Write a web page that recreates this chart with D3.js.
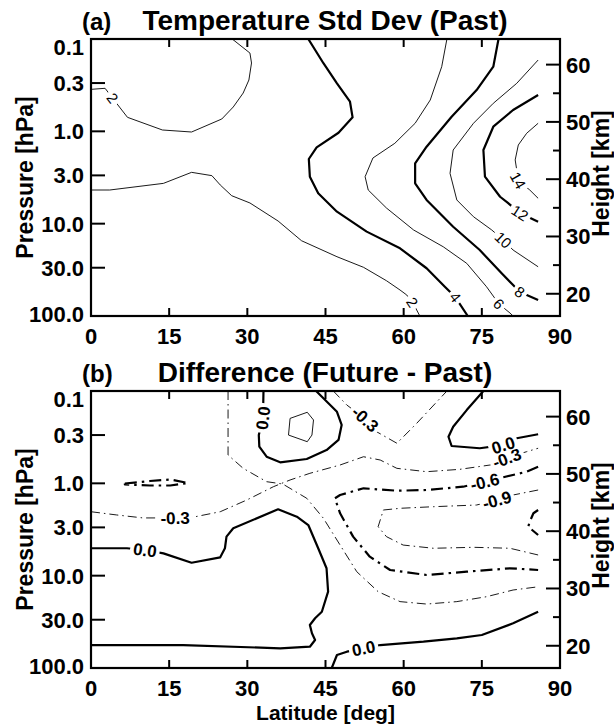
<!DOCTYPE html>
<html><head><meta charset="utf-8">
<script src="https://cdn.jsdelivr.net/npm/d3@7"></script>
<style>
body{margin:0;background:#fff;}
svg{display:block;font-family:"Liberation Sans",Arial,Helvetica,sans-serif;}
</style></head><body>
<svg id="chart" width="614" height="726"></svg>
<script>
// ---------- axis data ----------
const latTicks = [0,15,30,45,60,75,90];
const pressureTicks = [0.1,0.3,1,3,10,30,100];
const pressureTickLabels = ["0.1","0.3","1.0","3.0","10.0","30.0","100.0"];
const heightTicks = [20,30,40,50,60];
const heightMinorTicks = [25,35,45,55];
const scaleHeightKm = 7;

// ---------- panel (a): temperature std dev contours, points [lat, p(hPa)] ----------
const past2Upper = [[0,0.351],[2.7,0.342],[5.6,0.558],[7.0,0.705],[13.7,0.967],[19.3,1.017],[25.1,0.735],[27.3,0.545],[29.2,0.385],[30.3,0.278],[30.8,0.182],[30.5,0.142],[27.1,0.1]];
const past2Lower = [[0,4.32],[3.6,4.32],[13.9,3.66],[19.3,2.78],[23.2,3.02],[24.8,3.81],[27.0,4.98],[30.5,5.97],[35.9,9.36],[40.4,15.3],[47.2,22.8],[52.3,29.7],[56.7,41.5],[59.3,52.3],[60.6,59.3],[61.8,72.3],[62.8,92.8],[63.1,100]];
const past4 = [[41.7,0.1],[44.6,0.183],[47.2,0.302],[49.7,0.478],[50.2,0.705],[47.5,1.035],[43.3,1.489],[41.8,1.994],[42.0,3.10],[43.6,4.69],[47.2,7.42],[52.9,12.2],[59.3,18.5],[64.4,30.4],[67.9,48.2],[69.9,62.3],[72.3,100]];
const past6 = [[68.3,0.1],[67.3,0.1995],[65.1,0.458],[62.2,0.818],[58.3,1.348],[54.1,1.945],[52.6,3.10],[53.2,4.32],[56.7,6.77],[61.9,11.7],[67.6,17.8],[72.1,26.9],[75.9,48.2],[78.3,74.2],[80.4,92.8],[81.0,100]];
const past8 = [[78.2,0.1],[77.2,0.1995],[74.0,0.357],[69.2,0.694],[64.4,1.467],[62.2,2.22],[62.2,3.66],[64.4,5.54],[69.5,10.8],[74.6,19.3],[78.8,34.5],[81.0,46.2],[82.3,55.0],[85.8,67.1]];
const past10 = [[85.8,0.169],[81.7,0.302],[77.2,0.497],[73.4,0.818],[69.5,1.593],[68.9,2.85],[70.2,5.54],[73.4,8.41],[76.9,11.7],[79.1,15.0],[81.0,19.3],[85.8,29.3]];
const past12 = [[85.8,0.404],[81.0,0.587],[77.2,0.891],[75.3,1.593],[75.6,3.10],[78.5,5.11],[80.0,5.97],[82.3,7.66],[85.8,9.52]];
const past14 = [[85.8,0.818],[83.6,1.05],[82.0,1.406],[81.4,2.04],[81.7,2.62],[81.9,3.37],[84.2,4.32],[85.8,5.31]];

// label anchor positions [lat, p]
const past2UpperLabels = [[4.1,0.44]];
const past2LowerLabels = [[61.7,71]];
const past4Labels = [[70.0,62]];
const past6Labels = [[78.3,74]];
const past8Labels = [[82.3,55]];
const past10Labels = [[79.1,15.0]];
const past12Labels = [[82.3,7.66]];
const past14Labels = [[81.9,3.4]];

// ---------- panel (b): difference contours ----------
const diffM03a = [[0,2.03],[4.9,2.20],[10.0,2.37],[16.1,2.37],[20.0,2.30],[24.8,2.03],[29.9,1.515],[35.0,1.088],[38.2,0.920],[42.0,0.779],[47.8,0.633],[52.3,0.515],[55.5,0.559],[58.7,0.688],[64.4,0.748],[70.8,0.705],[76.6,0.633],[79.8,0.532],[83.6,0.454],[85.8,0.417]];
const diffM03b = [[26.3,0.1],[26.3,0.493],[29.2,0.688],[33.7,0.960],[36.8,1.017],[41.4,1.452],[44.6,2.39],[47.8,4.66],[51.0,9.06],[55.1,14.9],[59.3,19.1],[64.4,20.3],[70.2,19.1],[75.9,16.9],[81.0,14.3],[85.8,13.2]];
const diffM03c = [[46.5,0.1],[49.1,0.142],[52.9,0.206],[54.8,0.276],[58.7,0.368],[62.5,0.224],[68.3,0.1]];
const diff0Upper = [[33.1,0.1],[33.0,0.196],[32.2,0.300],[32.3,0.401],[33.7,0.515],[36.3,0.592],[41.4,0.545],[45.2,0.436],[47.5,0.339],[48.1,0.233],[47.2,0.168],[44.6,0.120],[43.2,0.1]];
const diffP03 = [[38.2,0.198],[41.5,0.170],[42.7,0.206],[42.4,0.300],[41.5,0.354],[37.9,0.300],[38.2,0.198]];
const diff0UpRight = [[75.3,0.1],[72.1,0.161],[69.5,0.244],[68.6,0.313],[69.2,0.394],[74.6,0.417],[79.1,0.385],[81.7,0.325],[85.8,0.294]];
const diff0Mid = [[0,5.05],[6.9,5.05],[10.4,5.27],[13.9,5.73],[19.3,7.24],[24.8,6.33],[25.7,5.05],[26.0,3.78],[27.3,3.07],[35.9,1.911],[39.5,2.30],[41.7,2.83],[43.6,5.05],[45.2,8.32],[45.5,14.9],[44.3,24.6],[43.0,28.9],[42.0,34.2],[42.4,42.1],[43.0,49.8],[42.0,58.8],[36.3,61.2],[17.7,56.4],[0,56.4]];
const diff0LowRight = [[46.2,100],[47.2,72.3],[49.1,66.6],[52.3,61.2],[55.5,56.4],[63.8,51.9],[70.2,47.7],[75.0,43.9],[81.0,32.8],[85.8,24.6]];
const diffM06 = [[85.8,0.661],[83.6,0.748],[75.6,0.960],[71.4,1.088],[64.4,1.181],[58.7,1.202],[52.3,1.132],[47.8,1.338],[46.8,1.452],[47.8,2.11],[50.3,3.78],[53.5,6.23],[57.4,8.68],[64.4,9.83],[72.1,9.06],[80.4,8.32],[85.8,8.68]];
const diffM06Loop = [[6.5,1.004],[11.3,0.944],[15.2,0.909],[18.6,0.992],[15.2,1.056],[11.3,1.056],[6.5,1.03],[6.5,1.004]];
const diffM09 = [[85.8,1.181],[81.0,1.338],[77.9,1.515],[74.0,1.717],[65.7,1.791],[59.3,1.864],[56.1,1.945],[55.5,2.50],[55.1,2.95],[56.7,3.78],[59.9,4.66],[65.7,5.05],[73.4,4.93],[80.4,5.05],[85.8,5.97]];
const diffM12 = [[85.8,1.945],[84.9,2.11],[84.2,2.60],[83.9,2.95],[85.8,3.63]];

const diffM03aLabels = [[16.1,2.37],[79.8,0.532]];
const diffM03cLabels = [[52.6,0.2]];
const diff0UpperLabels = [[33.0,0.196]];
const diff0UpRightLabels = [[79.1,0.385]];
const diff0MidLabels = [[10.4,5.2]];
const diff0LowRightLabels = [[52.3,61.2]];
const diffM06Labels = [[75.6,0.96]];
const diffM09Labels = [[77.9,1.515]];

// ---------- build ----------
const pastContours = [
  {level:2, points:past2Upper, labels:past2UpperLabels},
  {level:2, points:past2Lower, labels:past2LowerLabels},
  {level:4, points:past4, labels:past4Labels},
  {level:6, points:past6, labels:past6Labels},
  {level:8, points:past8, labels:past8Labels},
  {level:10, points:past10, labels:past10Labels},
  {level:12, points:past12, labels:past12Labels},
  {level:14, points:past14, labels:past14Labels}
];
const diffContours = [
  {level:-0.3, points:diffM03a, labels:diffM03aLabels},
  {level:-0.3, points:diffM03b, labels:[]},
  {level:-0.3, points:diffM03c, labels:diffM03cLabels},
  {level:0, points:diff0Upper, labels:diff0UpperLabels},
  {level:0.3, points:diffP03, labels:[]},
  {level:0, points:diff0UpRight, labels:diff0UpRightLabels},
  {level:0, points:diff0Mid, labels:diff0MidLabels},
  {level:0, points:diff0LowRight, labels:diff0LowRightLabels},
  {level:-0.6, points:diffM06, labels:diffM06Labels},
  {level:-0.6, points:diffM06Loop, labels:[]},
  {level:-0.9, points:diffM09, labels:diffM09Labels},
  {level:-1.2, points:diffM12, labels:[]}
];

const svg = d3.select("#chart");
const xScale = d3.scaleLinear().domain([0,90]).range([91,560]);

function drawPanel(cfg){
  const {top,bottom,contours,styleOf,fmt,labelSize,labelWeight,tag,title,id} = cfg;
  const y = d3.scaleLog().domain([0.1,100]).range([top,bottom]);
  const z = d3.scaleLinear()
    .domain([scaleHeightKm*Math.log(1000/100), scaleHeightKm*Math.log(1000/0.1)])
    .range([bottom,top]);
  const g = svg.append("g");
  g.append("clipPath").attr("id","clip"+id).append("rect")
    .attr("x",xScale(0)).attr("y",top).attr("width",xScale(90)-xScale(0)).attr("height",bottom-top);
  const cg = g.append("g").attr("clip-path",`url(#clip${id})`);
  const lg = g.append("g");
  const line = d3.line().x(d=>xScale(d[0])).y(d=>y(d[1]));

  contours.forEach(c=>{
    const st = styleOf(c.level);
    const path = cg.append("path").attr("d",line(c.points))
      .attr("fill","none").attr("stroke","#000")
      .attr("stroke-width",st.w).attr("stroke-linejoin","round")
      .attr("stroke-dasharray",st.dash||null);
    const node = path.node();
    const L = node.getTotalLength();
    c.labels.forEach(lp=>{
      const tx = xScale(lp[0]), ty = y(lp[1]);
      let best=0,bd=1e12;
      for(let s=0;s<=L;s+=0.5){const pt=node.getPointAtLength(s);const d=(pt.x-tx)**2+(pt.y-ty)**2;if(d<bd){bd=d;best=s;}}
      const a=node.getPointAtLength(Math.max(0,best-7)), b=node.getPointAtLength(Math.min(L,best+7));
      let ang=Math.atan2(b.y-a.y,b.x-a.x)*180/Math.PI;
      while(ang>95) ang-=180;
      while(ang<=-85) ang+=180;
      const p0=node.getPointAtLength(best);
      const lab = lg.append("g").attr("transform",`translate(${p0.x},${p0.y}) rotate(${ang})`);
      const rect = lab.append("rect").attr("fill","#fff");
      const t = lab.append("text").text(fmt(c.level))
        .attr("text-anchor","middle").attr("dy","0.36em")
        .attr("font-size",labelSize).attr("font-weight",labelWeight).attr("fill","#000");
      const w = t.node().getComputedTextLength();
      const h = labelSize*0.78;
      rect.attr("x",-w/2-3).attr("y",-h/2-1).attr("width",w+6).attr("height",h+2);
    });
  });

  // frame
  g.append("rect").attr("x",xScale(0)).attr("y",top).attr("width",xScale(90)-xScale(0)).attr("height",bottom-top)
    .attr("fill","none").attr("stroke","#000").attr("stroke-width",2.2);
  const tk = g.append("g").attr("stroke","#000").attr("stroke-width",2);
  latTicks.forEach(v=>{
    tk.append("line").attr("x1",xScale(v)).attr("x2",xScale(v)).attr("y1",bottom).attr("y2",bottom-8);
    tk.append("line").attr("x1",xScale(v)).attr("x2",xScale(v)).attr("y1",top).attr("y2",top+8);
  });
  pressureTicks.forEach(v=>{
    tk.append("line").attr("x1",xScale(0)).attr("x2",xScale(0)+14).attr("y1",y(v)).attr("y2",y(v));
  });
  heightTicks.forEach(v=>{
    tk.append("line").attr("x1",xScale(90)).attr("x2",xScale(90)-14).attr("y1",z(v)).attr("y2",z(v));
  });
  heightMinorTicks.forEach(v=>{
    tk.append("line").attr("x1",xScale(90)).attr("x2",xScale(90)-7).attr("y1",z(v)).attr("y2",z(v));
  });

  const txt = g.append("g").attr("font-weight","bold").attr("fill","#000").attr("font-size",22);
  latTicks.forEach(v=>{
    txt.append("text").attr("x",xScale(v)).attr("y",bottom+28).attr("text-anchor","middle").text(v);
  });
  pressureTicks.forEach((v,i)=>{
    const cy = Math.max(top+8, Math.min(bottom-2, y(v)));
    txt.append("text").attr("x",84).attr("y",cy).attr("dy","0.36em").attr("text-anchor","end").text(pressureTickLabels[i]);
  });
  heightTicks.forEach(v=>{
    txt.append("text").attr("x",566).attr("y",z(v)).attr("dy","0.36em").attr("text-anchor","start").text(v);
  });
  const cy = (top+bottom)/2;
  txt.append("text").attr("transform",`translate(33,${cy}) rotate(-90)`).attr("text-anchor","middle")
    .attr("font-size",23).text("Pressure [hPa]");
  txt.append("text").attr("transform",`translate(609,${cy-4}) rotate(-90)`).attr("text-anchor","middle")
    .attr("font-size",23).text("Height [km]");
  txt.append("text").attr("x",82).attr("y",top-9).attr("font-size",24).text(tag);
  txt.append("text").attr("x",325).attr("y",top-9).attr("text-anchor","middle").attr("font-size",28).text(title);
}

drawPanel({
  id:"a", top:39, bottom:316, contours:pastContours,
  styleOf: lv => ({w: lv%4===0 ? 2.2 : 0.9}),
  fmt: lv => String(lv),
  labelSize:15, labelWeight:"normal",
  tag:"(a)", title:"Temperature Std Dev (Past)"
});
drawPanel({
  id:"b", top:391, bottom:668, contours:diffContours,
  styleOf: lv => {
    const thick = Math.round(Math.abs(lv)/0.3)%2===0;
    const w = thick ? 2.2 : 0.9;
    const dash = lv<0 ? (thick ? "12,5,2.5,5" : "9,4,1.5,4") : null;
    return {w, dash};
  },
  fmt: lv => lv.toFixed(1),
  labelSize:17, labelWeight:"bold",
  tag:"(b)", title:"Difference (Future - Past)"
});

svg.append("text").attr("x",325.5).attr("y",720).attr("text-anchor","middle")
  .attr("font-size",21).attr("font-weight","bold").text("Latitude [deg]");
</script>
</body></html>
